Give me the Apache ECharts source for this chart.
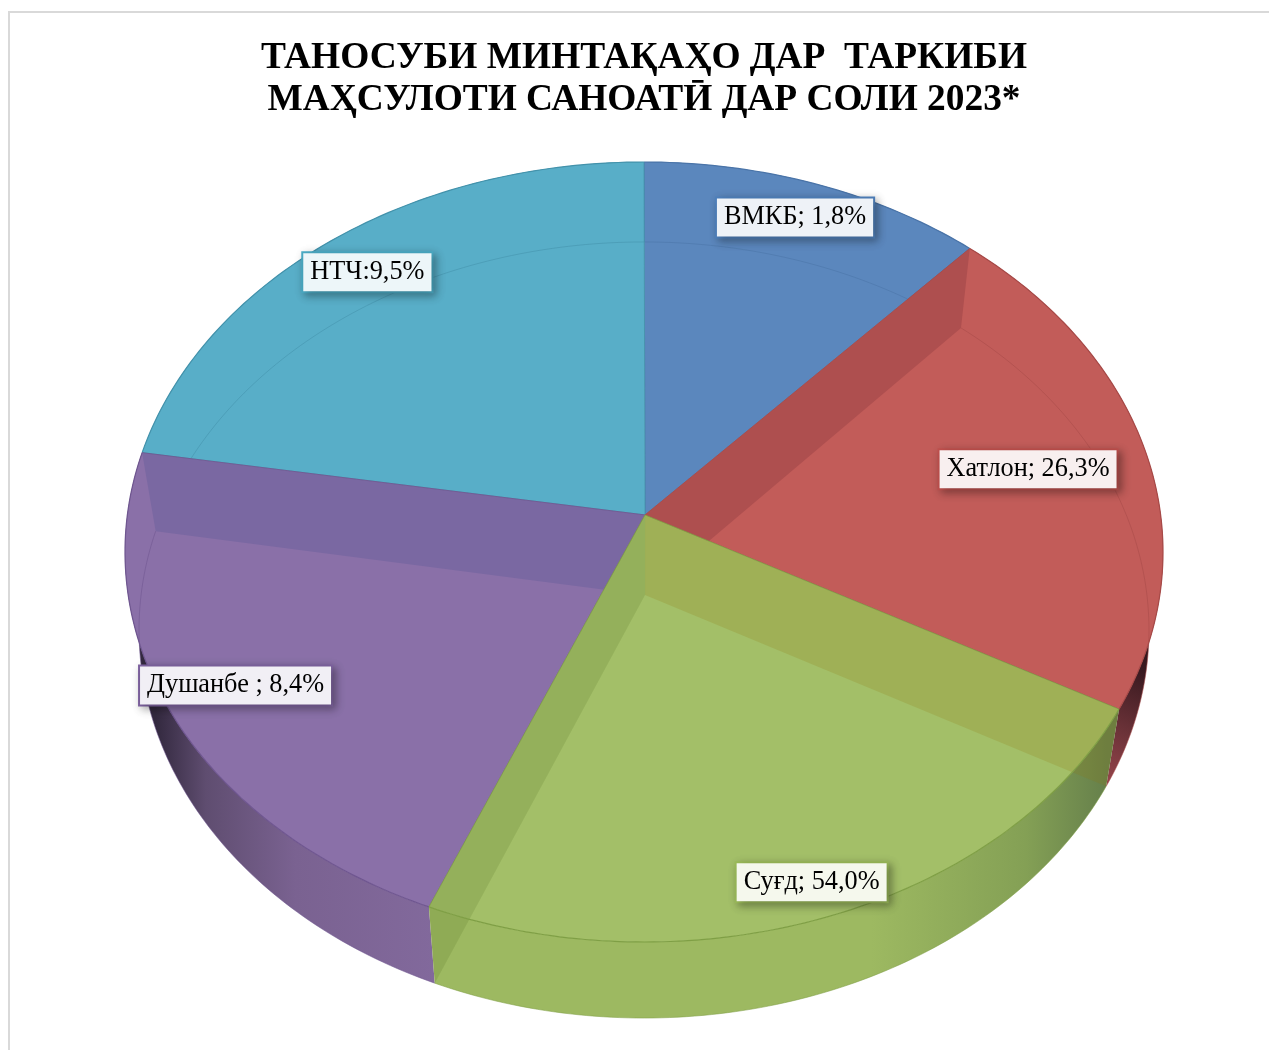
<!DOCTYPE html>
<html><head><meta charset="utf-8">
<style>html,body{margin:0;padding:0;background:#fff}#c{width:1269px;height:1050px}</style>
<script src="https://cdn.jsdelivr.net/npm/echarts@6/dist/echarts.min.js"></script>
</head><body><div id="c"></div>
<script>
// ---- data ----
const regions = ['ВМКБ', 'Хатлон', 'Суғд', 'Душанбе', 'НТЧ'];
const shownValues = [1.8, 26.3, 54.0, 8.4, 9.5];          // numbers printed on the labels
const labelSeparators = ['; ', '; ', '; ', ' ; ', ':'];
const drawnShares = [10.8, 20.8, 25.2, 22.3, 20.9];       // share of the circle each slice occupies as drawn (%)
// ---- styling ----
const faceColors = ['#5b87bd', '#c25c59', '#a3bf68', '#8a70a8', '#58aec8'];
const rimColors  = ['#4a74a8', '#a84a48', '#7f9f45', '#6f5690', '#4392ab'];
const wallColors = [[], ['#ae4f4f'], ['rgba(145,120,15,0.2)', 'rgba(70,97,17,0.15)'], ['#7a68a2'], []];
const wallEdges  = [[], [0], [0, 1], [1], []];             // 0 = start boundary, 1 = end boundary
const paintOrder = [0, 4, 1, 3, 2];
const bandStops = [
  [[0,'#4a74a8'],[1,'#4a74a8']],
  [[0,'#2a1216'],[0.35,'#3a1a20'],[0.7,'#6b3238'],[1,'#94444a']],
  [[0,'#9db961'],[0.65,'#9db961'],[0.88,'#84a055'],[1,'#66804b']],
  [[0,'#33293f'],[0.18,'#5f4d70'],[0.5,'#7a6291'],[1,'#82699c']],
  [[0,'#4392ab'],[1,'#4392ab']]
];
const labelBorders = ['#4f81bd', '#c0504d', '#9bbb59', '#8064a2', '#4bacc6'];
const labelFills = ['#eef2f7', '#f8efef', '#f5f8ed', '#f1eff5', '#edf6f9'];
const labelAnchors = [[0.291, 0.858], [0.74, 0.212], [0.323, -0.847], [-0.787, -0.342], [-0.533, 0.717]];

// ---- geometry in unit axis space: the face circle fills the hidden axes ----
const TOP = {cy: 0, rx: 1, ry: 1, ax: 0.002, ay: 0.095};
const BOT = {cy: -0.2, rx: 0.973, ry: 0.995, ax: 0.002, ay: -0.11};
const total = drawnShares.reduce((a, b) => a + b, 0);
let acc = 0;
const spans = drawnShares.map(s => { const a = acc; acc += s; return [a / total * 2 * Math.PI, acc / total * 2 * Math.PI]; });
const onRing = (r, t) => [r.rx * Math.sin(t), r.cy + r.ry * Math.cos(t)];
function arcPts(r, t0, t1, api) {
  const n = Math.max(12, Math.ceil((t1 - t0) * 60)), out = [];
  for (let i = 0; i <= n; i++) out.push(api.coord(onRing(r, t0 + (t1 - t0) * i / n)));
  return out;
}
function bandItem(params, api) {
  const i = api.value(0), [t0, t1] = spans[i];
  const pts = arcPts(TOP, t0, t1, api).concat(arcPts(BOT, t0, t1, api).reverse());
  const a = i === 1 ? api.coord([0.97, -0.14]) : api.coord([BOT.rx * Math.min(Math.sin(t0), Math.sin(t1)), 0]);
  const b = i === 1 ? api.coord([0.83, -0.55]) : api.coord([BOT.rx * Math.max(Math.sin(t0), Math.sin(t1)), 0]);
  return {type: 'polygon', shape: {points: pts}, style: {
    fill: new echarts.graphic.LinearGradient(a[0], a[1], b[0], b[1],
      bandStops[i].map(s => ({offset: s[0], color: s[1]})), true),
    stroke: null}};
}
function sliceItem(params, api) {
  const i = api.value(0), [t0, t1] = spans[i];
  const apex = api.coord([TOP.ax, TOP.ay]), apexB = api.coord([BOT.ax, BOT.ay]);
  const rim = arcPts(TOP, t0, t1, api);
  const kids = [
    {type: 'polygon', shape: {points: [apex].concat(rim)}, style: {fill: faceColors[i], stroke: null}},
    {type: 'polyline', shape: {points: arcPts(BOT, t0, t1, api)},
      style: {fill: null, stroke: rimColors[i], lineWidth: 1, opacity: 0.55}}
  ];
  wallEdges[i].forEach((edge, k) => {
    const t = edge ? t1 : t0;
    kids.push({type: 'polygon', shape: {points: [apex, api.coord(onRing(TOP, t)), api.coord(onRing(BOT, t)), apexB]},
      style: {fill: wallColors[i][k], stroke: null}});
  });
  kids.push({type: 'polyline', shape: {points: rim}, style: {fill: null, stroke: rimColors[i], lineWidth: 1.2}});
  kids.push({type: 'polyline', shape: {points: [api.coord(onRing(TOP, t0)), apex, api.coord(onRing(TOP, t1))]},
    style: {fill: null, stroke: rimColors[i], lineWidth: 1, opacity: 0.8}});
  return {type: 'group', children: kids};
}
const chart = echarts.init(document.getElementById('c'), null, {renderer: 'canvas'});
const hiddenAxis = {type: 'value', min: -1, max: 1, interval: 1, show: false};
chart.setOption({
  animation: false,
  backgroundColor: '#fff',
  title: {
    text: 'ТАНОСУБИ МИНТАҚАҲО ДАР  ТАРКИБИ\nМАҲСУЛОТИ САНОАТӢ ДАР СОЛИ 2023*',
    left: 639, top: 32, textAlign: 'center',
    textStyle: {fontFamily: '"Liberation Serif"', fontWeight: 'bold', fontSize: 37.4, lineHeight: 42, color: '#000'}
  },
  graphic: [{type: 'rect', silent: true, z: -1,
    shape: {x: 9, y: 12, width: 1300, height: 1100},
    style: {fill: '#fff', stroke: '#d9d9d9', lineWidth: 2}}],
  grid: {left: 125, width: 1038, top: 162, height: 780, containLabel: false},
  xAxis: hiddenAxis,
  yAxis: hiddenAxis,
  series: [
    {type: 'custom', name: 'side', coordinateSystem: 'cartesian2d', z: 1, silent: true, clip: false,
      renderItem: bandItem, data: paintOrder.map(i => [i])},
    {type: 'custom', name: 'slices', coordinateSystem: 'cartesian2d', z: 2, silent: true, clip: false,
      renderItem: sliceItem, data: paintOrder.map(i => [i, drawnShares[i], regions[i]])},
    {type: 'scatter', name: 'labels', z: 5, silent: true, symbolSize: 0, itemStyle: {opacity: 1},
      data: labelAnchors.map((p, i) => ({
        value: p,
        label: {
          show: true, position: 'inside', align: 'center', verticalAlign: 'middle',
          formatter: regions[i] + labelSeparators[i] + shownValues[i].toFixed(1).replace('.', ',') + '%',
          fontFamily: '"Liberation Serif"', fontSize: 26.3, color: '#000',
          backgroundColor: labelFills[i], borderColor: labelBorders[i], borderWidth: 2,
          padding: [7, 7, 5, 7],
          shadowColor: 'rgba(0,0,0,0.3)', shadowBlur: 8, shadowOffsetX: 3, shadowOffsetY: 3
        }
      }))}
  ]
});
</script></body></html>
